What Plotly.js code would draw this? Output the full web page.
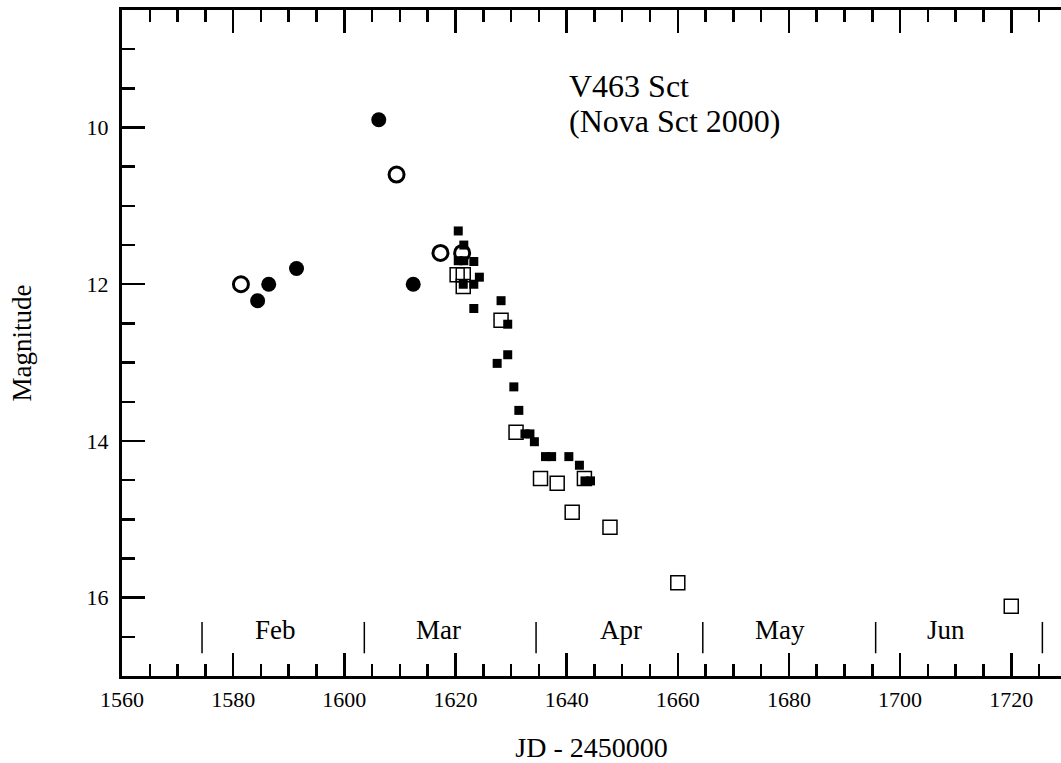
<!DOCTYPE html>
<html><head><meta charset="utf-8">
<script src="https://cdn.plot.ly/plotly-3.0.1.min.js"></script>
<style>html,body{margin:0;padding:0;overflow:hidden;background:#fff}#chart{width:1061px;height:763px}</style>
</head><body><div id="chart"></div>
<script>
// Visual estimates (V magnitudes)
const filledCircleJD  = [1584.4, 1586.4, 1591.4, 1606.2, 1612.4];
const filledCircleMag = [12.21, 12.0, 11.8, 9.9, 12.0];

const openCircleJD  = [1581.4, 1609.4, 1617.3, 1621.2];
const openCircleMag = [12.0, 10.6, 11.6, 11.6];

// CCD V
const filledSquareJD  = [1620.5, 1621.5, 1620.5, 1621.5, 1623.3, 1624.3, 1623.3, 1621.4, 1628.2, 1623.3, 1629.4,
                         1629.4, 1627.5, 1630.5, 1631.4, 1632.5, 1633.4, 1634.2, 1636.2, 1637.3, 1640.4, 1642.3, 1643.3, 1644.3];
const filledSquareMag = [11.32, 11.50, 11.70, 11.70, 11.71, 11.91, 12.0, 12.0, 12.21, 12.31, 12.51,
                         12.90, 13.01, 13.31, 13.61, 13.91, 13.91, 14.01, 14.20, 14.20, 14.20, 14.31, 14.51, 14.51];

const openSquareJD  = [1620.3, 1621.4, 1621.4, 1628.2, 1630.9, 1635.3, 1638.3, 1643.2, 1641.0, 1647.8, 1660.0, 1720.0];
const openSquareMag = [11.88, 11.88, 12.03, 12.46, 13.89, 14.48, 14.54, 14.48, 14.91, 15.10, 15.81, 16.11];

const monthBounds = [1574.4, 1603.6, 1634.5, 1664.5, 1695.6, 1725.6];
const monthNames  = ['Feb', 'Mar', 'Apr', 'May', 'Jun'];
const monthLabelJD = [1587.6, 1616.9, 1649.7, 1678.4, 1708.2];
const monthLabelMag = 16.41;
const boundTop = 16.31, boundBottom = 16.71;

const xRange = [1560, 1728.95];
const yRange = [17, 8.5];

const FONT = '"Liberation Serif", "Times New Roman", serif';

const traces = [
  {x: filledCircleJD, y: filledCircleMag, mode: 'markers', type: 'scatter', name: 'vis',
   marker: {symbol: 'circle', size: 15, color: '#000'}},
  {x: openCircleJD, y: openCircleMag, mode: 'markers', type: 'scatter', name: 'vis open',
   marker: {symbol: 'circle-open', size: 15, color: '#000', line: {width: 3, color: '#000'}}},
  {x: openSquareJD, y: openSquareMag, mode: 'markers', type: 'scatter', name: 'CCD open',
   marker: {symbol: 'square-open', size: 14, color: '#000', line: {width: 1.5, color: '#000'}}},
  {x: filledSquareJD, y: filledSquareMag, mode: 'markers', type: 'scatter', name: 'CCD',
   marker: {symbol: 'square', size: 9, color: '#000', line: {width: 0}}}
];

const shapes = monthBounds.map(b => ({
  type: 'line', xref: 'x', yref: 'y', x0: b, x1: b, y0: boundTop, y1: boundBottom,
  line: {color: '#000', width: 1.5}
}));

const annotations = monthNames.map((m, i) => ({
  x: monthLabelJD[i], y: monthLabelMag, xref: 'x', yref: 'y', text: m, showarrow: false,
  xanchor: 'center', yanchor: 'middle', font: {family: FONT, size: 27, color: '#000'}
}));
annotations.push(
  {x: 1640.0, y: 9.47, xref: 'x', yref: 'y', text: 'V463 Sct', showarrow: false,
   xanchor: 'left', yanchor: 'middle', font: {family: FONT, size: 32, color: '#000'}},
  {x: 1640.0, y: 9.92, xref: 'x', yref: 'y', text: '(Nova Sct 2000)', showarrow: false,
   xanchor: 'left', yanchor: 'middle', font: {family: FONT, size: 32, color: '#000'}}
);

const tickCommon = {
  showgrid: false, zeroline: false, ticks: 'inside', tickcolor: '#000', tickwidth: 2.5, ticklen: 23,
  tickfont: {family: FONT, size: 22, color: '#000'}
};

const layout = {
  width: 1061, height: 763,
  margin: {l: 122, r: 0, t: 10, b: 87},
  paper_bgcolor: '#fff', plot_bgcolor: '#fff',
  showlegend: false,
  font: {family: FONT, color: '#000'},
  xaxis: Object.assign({}, tickCommon, {
    range: xRange, tick0: 1560, dtick: 20, ticklabelstandoff: 2,
    showline: true, linecolor: '#000', linewidth: 3, mirror: 'allticks',
    minor: {dtick: 5, ticks: 'inside', ticklen: 12, tickwidth: 2.5, tickcolor: '#000', showgrid: false},
    title: {text: 'JD - 2450000', font: {family: FONT, size: 28, color: '#000'}, standoff: 26}
  }),
  yaxis: Object.assign({}, tickCommon, {
    range: yRange, tick0: 10, dtick: 2, ticklabelstandoff: 6,
    showline: true, linecolor: '#000', linewidth: 3, mirror: false,
    minor: {dtick: 0.5, ticks: 'inside', ticklen: 13, tickwidth: 2.5, tickcolor: '#000', showgrid: false},
    title: {text: 'Magnitude', font: {family: FONT, size: 27, color: '#000'}, standoff: 48}
  }),
  yaxis2: Object.assign({}, tickCommon, {
    range: yRange, tick0: 10, dtick: 2, overlaying: 'y', side: 'right', anchor: 'x',
    showline: false, showticklabels: false,
    minor: {dtick: 0.5, ticks: 'inside', ticklen: 13, tickwidth: 2.5, tickcolor: '#000', showgrid: false}
  }),
  shapes: shapes,
  annotations: annotations
};

Plotly.newPlot('chart', traces, layout, {displayModeBar: false, staticPlot: true});
</script>
</body></html>
